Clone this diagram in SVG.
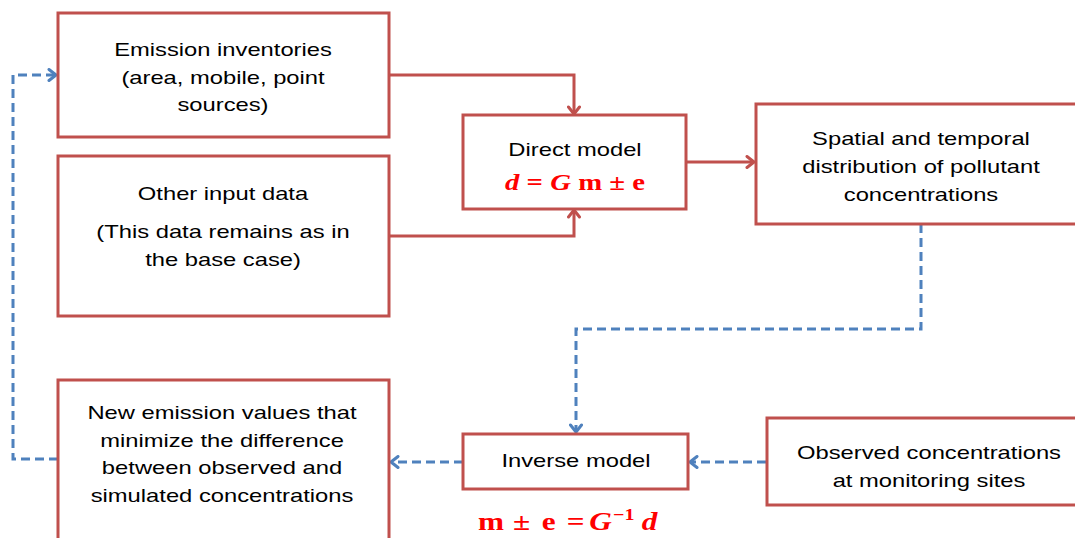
<svg xmlns="http://www.w3.org/2000/svg" width="1075" height="538" viewBox="0 0 1075 538">
<defs>
<style>
.box{fill:#fff;stroke:#c0504d;stroke-width:3}
.t{font-family:"Liberation Sans",Arial,sans-serif;font-size:19px;fill:#000;text-anchor:middle}
.f{font-family:"Liberation Serif","DejaVu Serif",serif;font-weight:bold;fill:#ff0000;text-anchor:middle}
.fs{font-family:"Liberation Serif","DejaVu Serif",serif;font-weight:bold;fill:#ff0000;font-size:25px}
.red{fill:none;stroke:#c0504d;stroke-width:3}
.blue{fill:none;stroke:#4f81bd;stroke-width:3;stroke-dasharray:9 5}
</style>
<marker id="ar" markerUnits="userSpaceOnUse" viewBox="0 0 14 14" refX="12" refY="7" markerWidth="14" markerHeight="14" orient="auto">
<path d="M5,1.5 L12,7 L5,12.5" fill="none" stroke="#c0504d" stroke-width="3" stroke-linecap="round" stroke-linejoin="round"/>
</marker>
<marker id="ab" markerUnits="userSpaceOnUse" viewBox="0 0 14 14" refX="12" refY="7" markerWidth="14" markerHeight="14" orient="auto">
<path d="M5,1.5 L12,7 L5,12.5" fill="none" stroke="#4f81bd" stroke-width="3" stroke-linecap="round" stroke-linejoin="round"/>
</marker>
</defs>
<rect width="1075" height="538" fill="#fff"/>
<g id="connectors">
<path class="red" d="M389,75 H574 V114" marker-end="url(#ar)"/>
<path class="red" d="M389,236 H574 V210" marker-end="url(#ar)"/>
<path class="red" d="M686,162 H754" marker-end="url(#ar)"/>
<path class="blue" d="M921,224 V329 H576 V432" marker-end="url(#ab)"/>
<path class="blue" d="M766,462 H690" marker-end="url(#ab)"/>
<path class="blue" d="M463,462 H391" marker-end="url(#ab)"/>
<path class="blue" d="M58,459 H13 V75 H56" marker-end="url(#ab)"/>
</g>
<g id="emission">
<rect class="box" x="58" y="13" width="331" height="124"/>
<g transform="translate(223 0) scale(1.25 1)">
<text class="t" x="0" y="56">Emission inventories</text>
<text class="t" x="0" y="84">(area, mobile, point</text>
<text class="t" x="0" y="111">sources)</text>
</g>
</g>
<g id="other">
<rect class="box" x="58" y="156" width="331" height="160"/>
<g transform="translate(223 0) scale(1.25 1)">
<text class="t" x="0" y="200">Other input data</text>
<text class="t" x="0" y="238">(This data remains as in</text>
<text class="t" x="0" y="266">the base case)</text>
</g>
</g>
<g id="direct">
<rect class="box" x="463" y="115" width="223" height="94"/>
<g transform="translate(575 0) scale(1.25 1)">
<text class="t" x="0" y="156">Direct model</text>
<text class="f" x="0" y="190" font-size="23"><tspan font-style="italic">d</tspan> = <tspan font-style="italic">G</tspan> m ± e</text>
</g>
</g>
<g id="spatial">
<rect class="box" x="756" y="104" width="335" height="120"/>
<g transform="translate(921 0) scale(1.25 1)">
<text class="t" x="0" y="145">Spatial and temporal</text>
<text class="t" x="0" y="173">distribution of pollutant</text>
<text class="t" x="0" y="201">concentrations</text>
</g>
</g>
<g id="inverse">
<rect class="box" x="463" y="434" width="225" height="55"/>
<g transform="translate(576 0) scale(1.25 1)">
<text class="t" x="0" y="467">Inverse model</text>
</g>
<g transform="translate(478 0) scale(1.25 1)">
<text class="fs" y="530"><tspan x="0">m</tspan><tspan x="28">±</tspan><tspan x="51">e</tspan><tspan x="71">=</tspan><tspan x="89" font-style="italic">G</tspan><tspan x="108" font-size="16" dy="-10">−1</tspan><tspan x="131" font-style="italic" dy="10">d</tspan></text>
</g>
</g>
<g id="observed">
<rect class="box" x="767" y="418" width="325" height="87"/>
<g transform="translate(929 0) scale(1.25 1)">
<text class="t" x="0" y="459">Observed concentrations</text>
<text class="t" x="0" y="487">at monitoring sites</text>
</g>
</g>
<g id="newemission">
<rect class="box" x="58" y="380" width="331" height="170"/>
<g transform="translate(222 0) scale(1.25 1)">
<text class="t" x="0" y="419">New emission values that</text>
<text class="t" x="0" y="447">minimize the difference</text>
<text class="t" x="0" y="474">between observed and</text>
<text class="t" x="0" y="502">simulated concentrations</text>
</g>
</g>
</svg>
